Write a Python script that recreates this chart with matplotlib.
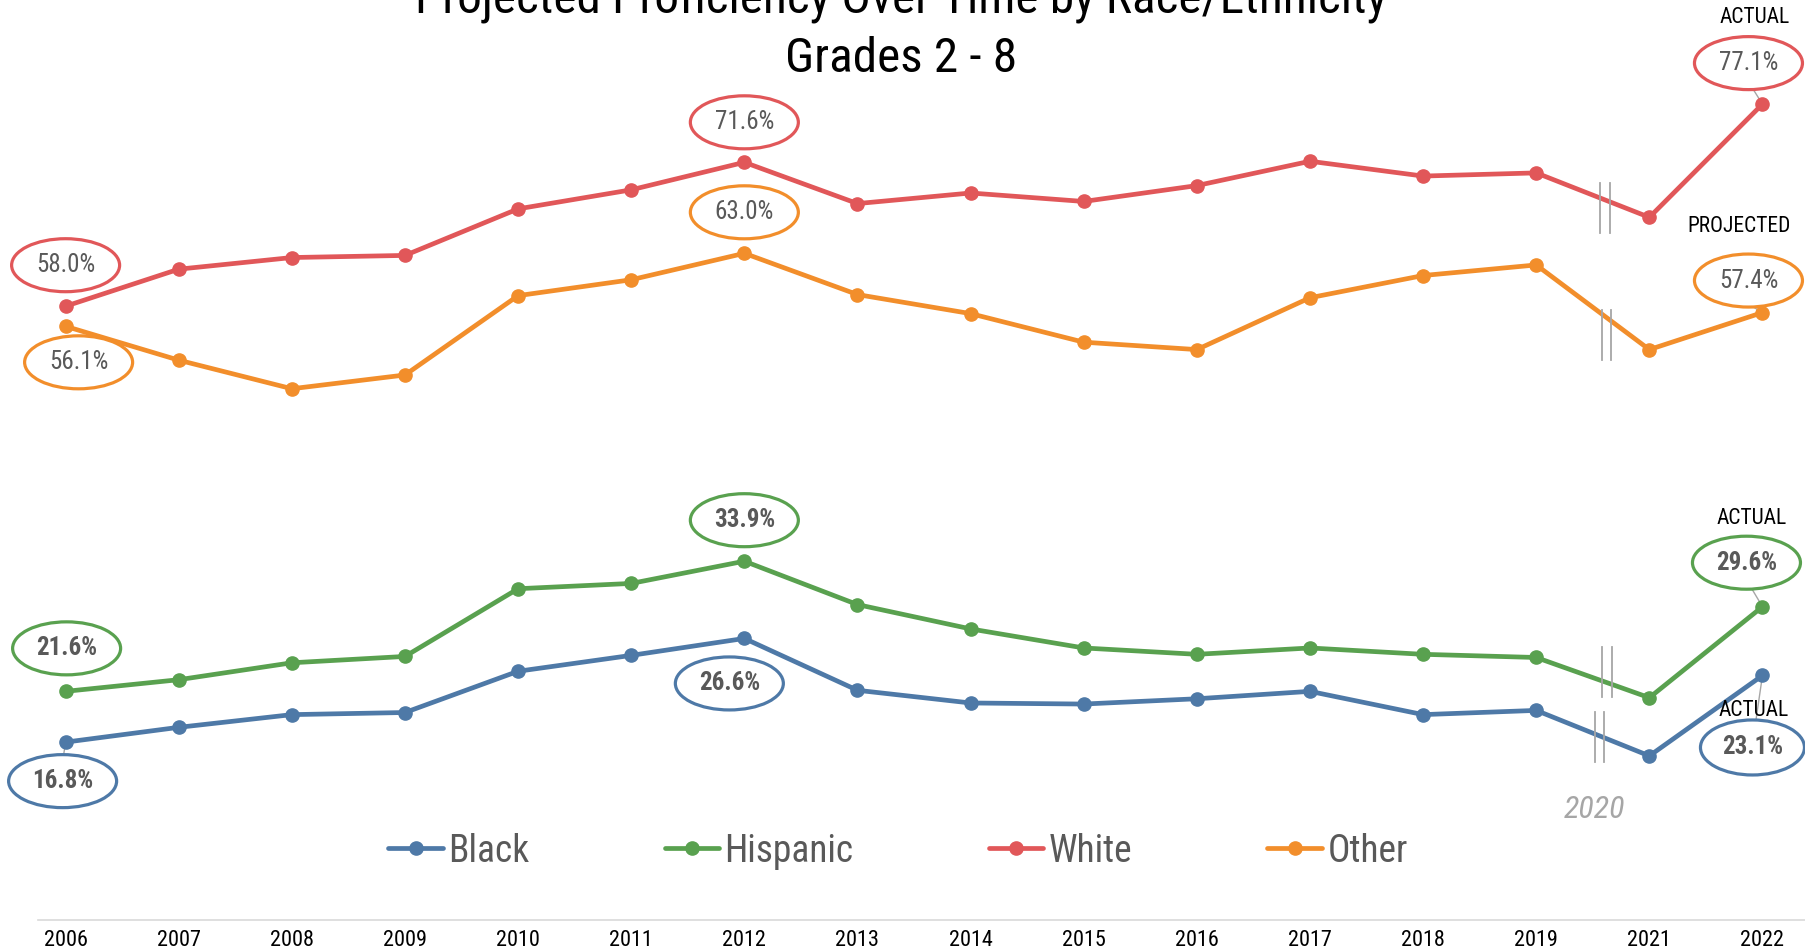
import matplotlib
matplotlib.use("Agg")
import matplotlib.pyplot as plt
from matplotlib.patches import Ellipse
from matplotlib import font_manager as fm

# ---------------- data ----------------
years = ["2006", "2007", "2008", "2009", "2010", "2011", "2012", "2013",
         "2014", "2015", "2016", "2017", "2018", "2019", "2021", "2022"]
black = [16.8, 18.2, 19.4, 19.6, 23.5, 25.0, 26.6, 21.7, 20.5, 20.4, 20.9, 21.6, 19.4, 19.8, 15.5, 23.1]
hispanic = [21.6, 22.7, 24.3, 24.9, 31.3, 31.8, 33.9, 29.8, 27.5, 25.7, 25.1, 25.7, 25.1, 24.8, 21.0, 29.6]
white = [58.0, 61.5, 62.6, 62.8, 67.2, 69.0, 71.6, 67.7, 68.7, 67.9, 69.4, 71.7, 70.3, 70.6, 66.4, 77.1]
other = [56.1, 52.9, 50.2, 51.5, 59.0, 60.5, 63.0, 59.1, 57.3, 54.6, 53.9, 58.8, 60.9, 61.9, 53.9, 57.4]
series_names = ["Black", "Hispanic", "White", "Other"]
colors = {"Black": "#4E79A7", "Hispanic": "#59A14F", "White": "#E15759", "Other": "#F28E2B"}

# ---------------- fonts ----------------
names = {f.name for f in fm.fontManager.ttflist}
cond = None
for cand in ["Liberation Sans Narrow", "Arial Narrow", "Roboto Condensed", "Open Sans Condensed"]:
    if cand in names:
        cond = cand
        break
stretch = "normal"
if cond is None:
    cond = "DejaVu Sans"
    stretch = "condensed"
FONT = dict(family=cond, stretch=stretch)

W, H = 1805, 951
fig = plt.figure(figsize=(W / 100, H / 100), dpi=100)
ax = fig.add_axes([0, 0, 1, 1])
ax.set_xlim(-0.58, 15.376)
ax.set_ylim(-2.94, 86.94)
ax.axis("off")

x = list(range(len(years)))
data = {"Black": black, "Hispanic": hispanic, "White": white, "Other": other}
handles = []
for name in series_names:
    h, = ax.plot(x, data[name], color=colors[name], lw=3.4, marker="o", ms=9.5,
                 solid_capstyle="round", zorder=3, label=name)
    handles.append(h)

# axis baseline and year labels
ax.plot([-0.24, 15.376], [0, 0], color="#D9D9D9", lw=1.2, zorder=1)
for xi, yr in zip(x, years):
    ax.text(xi, 0, yr, ha="center", va="top", fontsize=16, color="black",
            transform=ax.transData + matplotlib.transforms.ScaledTranslation(0, -7 / 72, fig.dpi_scale_trans),
            **FONT)

# pixel helpers
def px_per_unit():
    p0 = ax.transData.transform((0, 0))
    p1 = ax.transData.transform((1, 1))
    return p1[0] - p0[0], p1[1] - p0[1]

sx, sy = px_per_unit()

def label(name, idx, dx, dy, bold=False, leader=False, ew=108, eh=53):
    xv = x[idx]
    yv = data[name][idx]
    cx = xv + dx / sx
    cy = yv - dy / sy
    e = Ellipse((cx, cy), ew / sx, eh / sy, facecolor="white", edgecolor=colors[name],
                lw=2.3, zorder=5)
    ax.add_patch(e)
    ax.text(cx, cy, f"{yv:.1f}%", ha="center", va="center", fontsize=18,
            color="#595959", fontweight="bold" if bold else "normal", zorder=6, **FONT)
    if leader:
        ey = cy + (eh / 2 / sy) * (1 if dy > 0 else -1)
        ex = cx
        ax.plot([xv, ex + (xv - ex) * 0.35], [yv, ey], color="#A6A6A6", lw=1.0, zorder=2)

label("White", 0, 0, -41)
label("Other", 0, 13, 36)
label("White", 6, 0, -40)
label("Other", 6, 0, -41)
label("White", 15, -14, -41, leader=True)
label("Other", 15, -14, -32, leader=True)
label("Hispanic", 0, 1, -43, bold=True)
label("Black", 0, -3, 39, bold=True, leader=True)
label("Hispanic", 6, 0, -41, bold=True)
label("Black", 6, -15, 45, bold=True)
label("Hispanic", 15, -16, -44, bold=True, leader=True)
label("Black", 15, -10, 72, bold=True, leader=True, ew=104, eh=55)

# ACTUAL / PROJECTED labels (pixel positions -> figure coords)
def ftext(px, py, s, **kw):
    fig.text(px / W, 1 - py / H, s, **kw)

for (px, py, s) in [(1755, 17.5, "ACTUAL"), (1739, 226, "PROJECTED"),
                    (1752, 519, "ACTUAL"), (1754, 710, "ACTUAL")]:
    ftext(px, py, s, ha="center", va="center", fontsize=15.5, color="black", zorder=7, **FONT)

# break marks between 2019 and 2021
breaks = [(1600, 1609.5, 183, 233), (1601.7, 1610.7, 310, 360),
          (1602, 1611.7, 647, 697), (1595, 1604, 712, 762)]
for (xa, xb, ya, yb) in breaks:
    for xx in (xa, xb):
        fig.add_artist(plt.Line2D([xx / W, xx / W], [1 - ya / H, 1 - yb / H],
                                  color="#A6A6A6", lw=1.3, transform=fig.transFigure))

ftext(1594, 810, "2020", ha="center", va="center", fontsize=23, color="#A6A6A6",
      style="italic", **FONT)

# title
ftext(901, 14, "Projected Proficiency Over Time by Race/Ethnicity", ha="center",
      va="baseline", fontsize=35.5, color="black", **FONT)
ftext(901, 72, "Grades 2 - 8", ha="center", va="baseline", fontsize=35.5, color="black", **FONT)

leg = fig.legend(handles=handles, labels=series_names, loc="center",
                 bbox_to_anchor=(898 / W, 1 - 851 / H), ncol=4, frameon=False,
                 handlelength=1.45, handletextpad=0.15, columnspacing=3.6,
                 prop=fm.FontProperties(family=cond, stretch=stretch, size=27))
for t in leg.get_texts():
    t.set_color("#595959")

fig.savefig("out.png", dpi=100)
